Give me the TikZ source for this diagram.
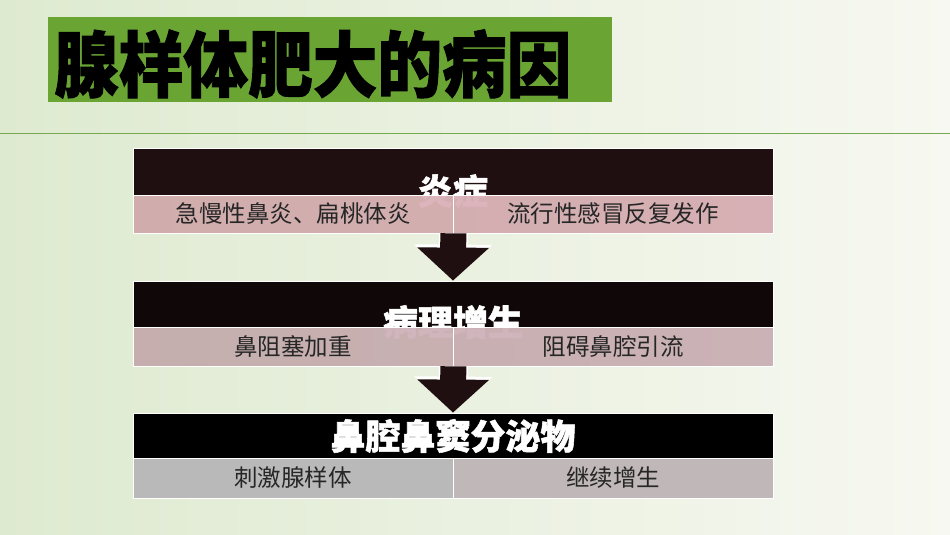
\documentclass[tikz,border=0pt]{standalone}
\usepackage{fontspec}
\newfontfamily\cjk{Noto Sans CJK SC}[BoldFeatures={FakeBold=1.5}]
\usetikzlibrary{arrows.meta}

\definecolor{bgleft}{RGB}{222,234,208}
\definecolor{bgright}{RGB}{247,248,241}
\definecolor{titlegreen}{RGB}{106,165,52}
\definecolor{rulegreen}{RGB}{118,170,78}
\definecolor{darkA}{RGB}{32,15,16}
\definecolor{darkB}{RGB}{16,8,8}
\definecolor{pinkA}{RGB}{198,134,147}
\definecolor{pinkB}{RGB}{180,137,150}
\definecolor{grayC}{RGB}{185,185,185}
\definecolor{grayD}{RGB}{191,183,184}

\tikzset{
  band/.style={fill=#1, draw=white, line width=0.8pt, minimum width=640pt, minimum height=46pt, inner sep=0pt},
  cell/.style={fill=#1, fill opacity=0.62, text opacity=1, draw=white, line width=0.6pt, minimum width=320pt, minimum height=39pt, inner sep=0pt, text=black!85, font=\cjk\fontsize{23.5}{27}\selectfont},
  headtext/.style={text=white, font=\cjk\bfseries\fontsize{35}{40}\selectfont, inner sep=0pt},
  fatarrow/.style={draw=darkA, line width=26pt, -{Triangle[width=70pt, length=33pt]},
    preaction={draw=white, line width=29pt, -{Triangle[width=76pt, length=36pt]}}}
}

\begin{document}
\begin{tikzpicture}[x=1pt, y=-1pt]
  \useasboundingbox (0,0) rectangle (950,535);
  \shade[left color=bgleft, right color=bgright] (0,0) rectangle (950,535);

  % Title bar
  \node[fill=titlegreen, minimum width=564pt, minimum height=85pt, inner sep=0pt, anchor=north west] (titlebox) at (48,17) {};
  \node[anchor=west, inner sep=0pt, font=\cjk\bfseries\fontsize{64}{70}\selectfont] (title) at (54,64) {\scalebox{1.01}[1.12]{腺样体肥大的病因}};
  \draw[rulegreen, line width=1pt] (0,133) -- (950,133);

  % Block 1: inflammation
  \node[band=darkA, minimum height=47pt] (b1) at (453,171.5) {};
  \node[headtext] (h1) at (453,191) {炎症};
  \node[cell=pinkA, minimum height=38pt] (r1l) at (293,214) {急慢性鼻炎、扁桃体炎};
  \node[cell=pinkA, minimum height=38pt] (r1r) at (613,214) {流行性感冒反复发作};

  % Block 2: hyperplasia
  \node[band=darkB] (b2) at (453,304) {};
  \node[headtext] (h2) at (453,322) {病理增生};
  \node[cell=pinkB] (r2l) at (293,346.5) {鼻阻塞加重};
  \node[cell=pinkB] (r2r) at (613,346.5) {阻碍鼻腔引流};

  % Block 3: secretions
  \node[band=black, minimum height=45pt] (b3) at (453,435.5) {};
  \node[headtext] (h3) at (453,436) {鼻腔鼻窦分泌物};
  \node[cell=grayC, fill opacity=1, minimum height=40pt] (r3l) at (293,478) {刺激腺样体};
  \node[cell=grayD, fill opacity=1, minimum height=40pt] (r3r) at (613,478) {继续增生};

  % Arrows between blocks
  \draw[fatarrow] (r1l.south east) -- (b2.north);
  \draw[fatarrow] (r2l.south east) -- (b3.north);
\end{tikzpicture}
\end{document}
